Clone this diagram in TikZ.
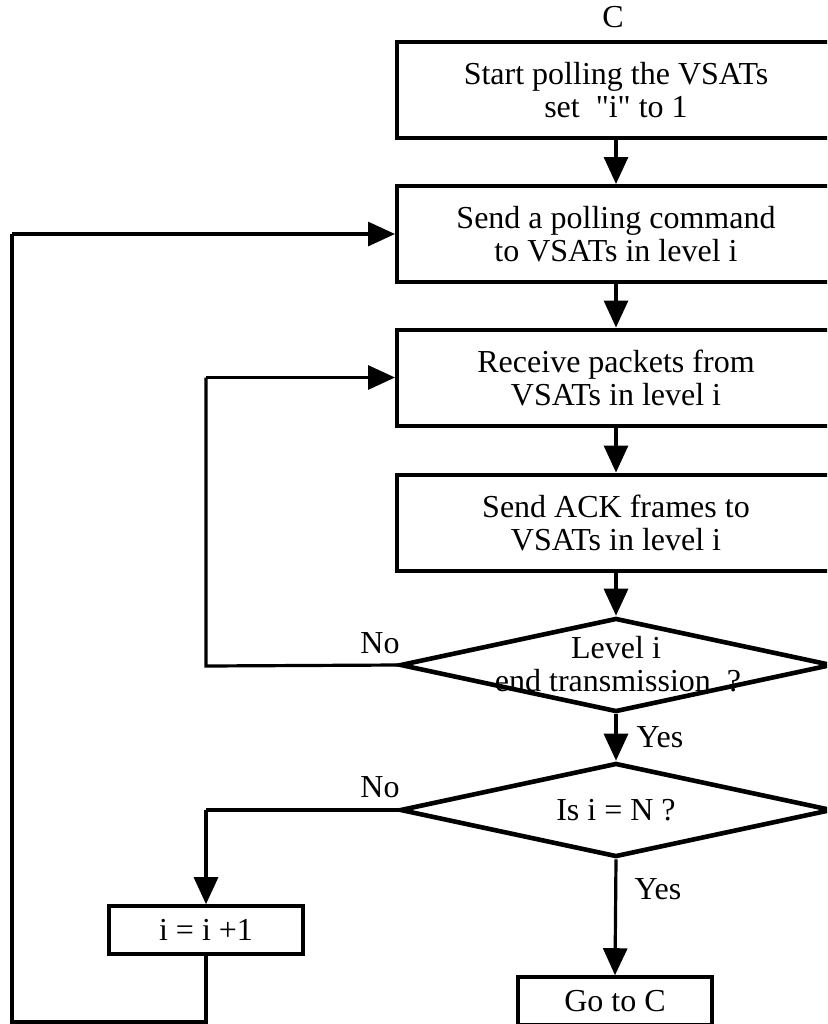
\documentclass[tikz,border=0pt]{standalone}
\usepackage{fontspec}
\setmainfont{Liberation Serif}
\usetikzlibrary{shapes.geometric,arrows.meta}
\begin{document}
\begin{tikzpicture}[x=0.5pt,y=-0.5pt,
  every node/.style={font=\fontsize{16}{16.5}\selectfont, inner sep=0pt},
  procbox/.style={draw, line width=2pt, minimum width=219pt, minimum height=48pt, align=center},
  smallbox/.style={draw, line width=1.8pt, minimum width=97pt, minimum height=24pt, align=center},
  decision/.style={draw, diamond, line width=2.3pt, minimum width=216pt, minimum height=47pt, aspect=4.6},
  flow/.style={line width=1.6pt, -{Triangle[length=13.5pt,width=12pt]}},
  link/.style={line width=1.6pt}]
\useasboundingbox (0,0) rectangle (827,1024);
\clip (0,0) rectangle (827,1024);

% main column of steps
\node (lblC) at (613,17) {C};
\node[procbox] (start) at (616,90) {Start polling the VSATs\\set \ \textquotedbl i\textquotedbl{} to 1};
\node[procbox] (poll) at (616,234) {Send a polling command\\to VSATs in level i};
\node[procbox] (recv) at (616,377.5) {Receive packets from\\VSATs in level i};
\node[procbox] (ack) at (616,522.5) {Send ACK frames to\\VSATs in level i};

% decisions
\node[decision] (endtx) at (616,665) {};
\node (endtxA) at (616,648) {Level i};
\node (endtxB) at (618,681) {end transmission \ ?};
\node[decision] (last) at (616,810) {};
\node (lastq) at (616,810) {Is i = N ?};

% end boxes
\node[smallbox] (incr) at (206,930) {i = i +1};
\node[smallbox] (goc) at (615,1001) {Go to C};

% labels on branches
\node (no1) at (380,643) {No};
\node (no2) at (380,787) {No};
\node (yes1) at (660,737) {Yes};
\node (yes2) at (658,889) {Yes};

% loop corner points
\coordinate (c1) at (206,666);
\coordinate (c2) at (206,377.5);
\coordinate (c3) at (206,810);
\coordinate (c4) at (206,1022);
\coordinate (c5) at (12,1022);
\coordinate (c6) at (12,234);

% straight-down connectors
\draw[flow] (start) -- (poll);
\draw[flow] (poll) -- (recv);
\draw[flow] (recv) -- (ack);
\draw[flow] (ack) -- (endtx.north);
\draw[flow] (endtx.south) -- (last.north);
\draw[flow] (last.south) -- (goc.north);

% "No" branch of the first decision back to receiving
\draw[link] (endtx.west) -- (c1) -- (c2);
\draw[flow] (c2) -- (recv.west);

% "No" branch of the second decision to the increment
\draw[link] (last.west) -- (c3);
\draw[flow] (c3) -- (incr.north);

% increment loops back to polling
\draw[link] (incr.south) -- (c4) -- (c5) -- (c6);
\draw[flow] (c6) -- (poll.west);
\end{tikzpicture}
\end{document}
